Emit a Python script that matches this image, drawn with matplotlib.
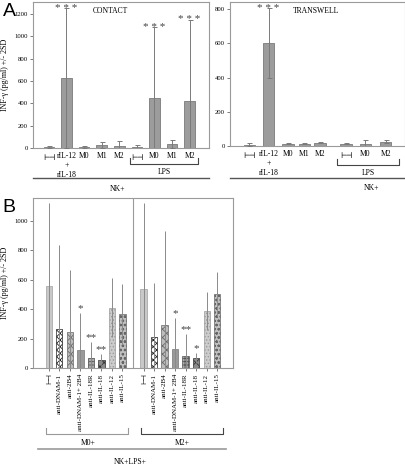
import numpy as np
import matplotlib
matplotlib.use('Agg')
import matplotlib.pyplot as plt
from matplotlib.lines import Line2D

plt.rcParams['font.family'] = ['Liberation Serif', 'DejaVu Sans']
plt.rcParams['hatch.linewidth'] = 0.6
plt.rcParams['mathtext.fontset'] = 'dejavuserif'

KONTROL = r'$\vdash\!\!\!\!\dashv$'

# data panel A (contact)
kontak_label = [KONTROL, 'rIL-12\n+\nrIL-18', 'M0', 'M1', 'M2', KONTROL, 'M0', 'M1', 'M2']
kontak_nilai = [10, 625, 10, 25, 20, 10, 445, 35, 420]
kontak_err = [6, 625, 7, 25, 40, 15, 635, 35, 730]
kontak_bintang = ['', '* * *', '', '', '', '', '* * *', '', '* * *']

# data panel A (transwell)
trans_label = [KONTROL, 'rIL-12\n+\nrIL-18', 'M0', 'M1', 'M2', KONTROL, 'M0', 'M2']
trans_nilai = [8, 600, 12, 12, 18, 12, 12, 25]
trans_err = [10, 205, 3, 3, 3, 3, 22, 10]
trans_bintang = ['', '* * *', '', '', '', '', '', '']

# data panel B
b_label = [KONTROL, 'anti-DNAM-1', 'anti-2B4', 'anti-DNAM-1+ 2B4', 'anti-IL-18R',
           'anti-IL-18', 'anti-IL-12', 'anti-IL-15']
b_m0 = [555, 268, 243, 125, 68, 57, 410, 365]
b_m0_err = [570, 567, 422, 250, 107, 36, 200, 205]
b_m0_bintang = ['', '', '', '*', '**', '**', '', '']
b_m2 = [540, 209, 295, 132, 84, 70, 390, 505]
b_m2_err = [580, 366, 635, 208, 150, 35, 130, 148]
b_m2_bintang = ['', '', '', '*', '**', '*', '', '']

W, H = 406, 465
fig = plt.figure(figsize=(W / 100, H / 100), dpi=100)


def kotak(x0, y0, x1, y1):
    return [x0 / W, 1 - y1 / H, (x1 - x0) / W, (y1 - y0) / H]


def garis(xs, ys, warna='#444444', lw=0.8):
    fig.add_artist(Line2D([x / W for x in xs], [1 - y / H for y in ys],
                          color=warna, lw=lw))


def teks(x, y, s, size=5.5, **kw):
    fig.text(x / W, 1 - y / H, s, fontsize=size, ha='center', va='center', **kw)


def gaya_sumbu(ax):
    for sp in ax.spines.values():
        sp.set_color('#9a9a9a')
        sp.set_linewidth(0.8)
    ax.tick_params(axis='y', labelsize=4.8, length=2, width=0.6, color='#666', pad=1.5)
    ax.tick_params(axis='x', length=0, labelsize=5.5, pad=3)


def panel_a(ax, pos, nilai, err, label, bintang, ymax, ticks, judul, judul_x):
    ax.bar(pos, nilai, width=0.6, color='#9c9c9c', edgecolor='#7a7a7a', lw=0.6, zorder=2)
    ax.errorbar(pos, nilai, yerr=err, fmt='none', ecolor='#7a7a7a', elinewidth=0.7,
                capsize=1.8, capthick=0.7, zorder=3)
    for x, v, e, b in zip(pos, nilai, err, bintang):
        if b:
            ax.text(x, v + e, b, ha='center', va='center', fontsize=8, color='#444')
    ax.set_ylim(0, ymax)
    ax.set_yticks(ticks)
    ax.set_xticks(pos)
    ax.set_xticklabels(label, linespacing=1.2, va='top')
    ax.text(judul_x, 0.94, judul, transform=ax.transAxes, ha='center', va='center',
            fontsize=5.5)
    gaya_sumbu(ax)


# panel A kiri
ax1 = fig.add_axes(kotak(33, 2, 209, 148))
pos1 = np.arange(len(kontak_nilai))
panel_a(ax1, pos1, kontak_nilai, kontak_err, kontak_label, kontak_bintang,
        1307, [0, 200, 400, 600, 800, 1000, 1200], 'CONTACT', 0.44)
ax1.set_xlim(-0.9, 9.1)
ax1.set_ylabel('INF-γ (pg/ml) +/- 2SD', fontsize=5.8, labelpad=4)

# panel A kanan
ax2 = fig.add_axes(kotak(230, 2, 405, 146))
pos2 = np.array([0, 1, 2, 2.85, 3.65, 5, 6, 7.05])
panel_a(ax2, pos2, trans_nilai, trans_err, trans_label, trans_bintang,
        841, [0, 200, 400, 600, 800], 'TRANSWELL', 0.49)
ax2.set_xlim(-1, 8.05)

# anotasi bawah panel A
garis([130, 130, 198, 198], [158, 164, 164, 158])
teks(164, 172, 'LPS')
garis([33, 209], [178, 178], '#555555', 1.0)
teks(118, 189, 'NK+')
garis([337, 337, 399, 399], [159, 165, 165, 159])
teks(368, 173, 'LPS')
garis([230, 405], [178, 178], '#555555', 1.0)
teks(372, 188, 'NK+')

# panel B
ax3 = fig.add_axes(kotak(33, 198, 233, 368))
warna = ['#c8c8c8', 'white', '#bdbdbd', '#9a9a9a', '#ababab', '#8a8a8a', '#cccccc', '#c0c0c0']
tepi = ['#a0a0a0', '#222222', '#6a6a6a', '#777777', '#555555', '#333333', '#9a9a9a', '#666666']
arsir = [None, 'xxxxx', 'xxxx', None, '+++++', 'xxxx', '.....', 'oooo']
pos_m0 = np.arange(8)
pos_m2 = np.arange(8) + 9
for posg, nilai, err, bintang in [(pos_m0, b_m0, b_m0_err, b_m0_bintang),
                                  (pos_m2, b_m2, b_m2_err, b_m2_bintang)]:
    for i in range(8):
        ax3.bar(posg[i], nilai[i], width=0.6, color=warna[i], edgecolor=tepi[i],
                hatch=arsir[i], lw=0.5, zorder=2)
    ax3.errorbar(posg, nilai, yerr=err, fmt='none', ecolor='#8a8a8a', elinewidth=0.7,
                 capsize=0, zorder=3)
    for x, v, e, b in zip(posg, nilai, err, bintang):
        if b:
            ax3.text(x, v + e + 30, b, ha='center', va='center', fontsize=8, color='#444')
ax3.axvline(8, color='#9a9a9a', lw=0.8)
ax3.set_xlim(-1.5, 17.5)
ax3.set_ylim(0, 1156)
ax3.set_yticks([0, 200, 400, 600, 800, 1000])
ax3.set_ylabel('INF-γ (pg/ml) +/- 2SD', fontsize=5.8, labelpad=4)
gaya_sumbu(ax3)
ax3.set_xticks(np.concatenate([pos_m0, pos_m2]))
ax3.set_xticklabels(b_label + b_label, rotation=90, va='top')
ax3.tick_params(axis='x', length=2, width=0.6, color='#666', labelsize=5, pad=2)

# anotasi bawah panel B
garis([46, 46, 128, 128], [428, 434, 434, 428], '#999999')
teks(88, 443, 'M0+')
garis([141, 141, 223, 223], [428, 434, 434, 428])
teks(182, 443, 'M2+')
garis([38, 226], [449, 449], '#999999', 1.2)
teks(130, 462, 'NK+LPS+')

teks(9, 11, 'A', size=14, family='Liberation Sans')
teks(9, 207, 'B', size=14, family='Liberation Sans')

plt.savefig('out.png', dpi=100)
